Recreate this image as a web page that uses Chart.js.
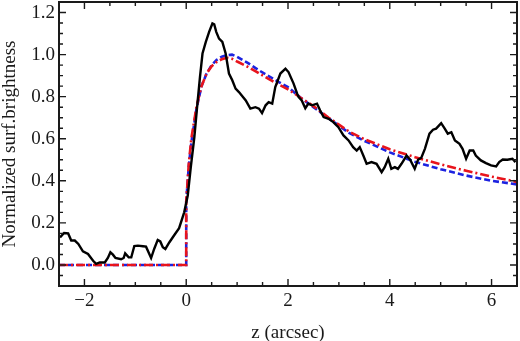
<!DOCTYPE html>
<html>
<head>
<meta charset="utf-8">
<script src="https://cdn.jsdelivr.net/npm/chart.js@4/dist/chart.umd.min.js"></script>
<style>
  html, body { margin: 0; padding: 0; background: #fff; }
  #chart { display: block; }
</style>
</head>
<body>
<canvas id="chart" width="520" height="341"></canvas>
<script>
// observed profile (black line)
const obsZ = [-2.48, -2.40, -2.32, -2.26, -2.19, -2.12, -2.03, -1.93, -1.83, -1.77, -1.70, -1.60, -1.54, -1.49, -1.44, -1.39,
  -1.28, -1.23, -1.20, -1.13, -1.08, -1.02, -0.95, -0.85, -0.79, -0.69, -0.63, -0.56, -0.51, -0.46, -0.41, -0.33,
  -0.24, -0.14, -0.04, 0.03, 0.09, 0.16, 0.22, 0.27, 0.32, 0.385, 0.45, 0.515, 0.55, 0.59, 0.645, 0.71,
  0.775, 0.84, 0.905, 0.97, 1.036, 1.17, 1.26, 1.36, 1.43, 1.49, 1.56, 1.62, 1.69, 1.75, 1.85, 1.95,
  2.01, 2.11, 2.18, 2.21, 2.27, 2.34, 2.40, 2.47, 2.57, 2.63, 2.70, 2.80, 2.89, 2.99, 3.09, 3.19,
  3.28, 3.35, 3.41, 3.48, 3.545, 3.64, 3.74, 3.84, 3.90, 3.97, 4.03, 4.10, 4.16, 4.23, 4.33, 4.40,
  4.49, 4.555, 4.62, 4.69, 4.78, 4.85, 4.91, 5.01, 5.08, 5.14, 5.21, 5.28, 5.37, 5.43, 5.50, 5.57,
  5.64, 5.69, 5.79, 5.89, 5.99, 6.09, 6.15, 6.22, 6.31, 6.41, 6.47];
const obsS = [0.131, 0.152, 0.150, 0.116, 0.116, 0.100, 0.065, 0.052, 0.020, 0.005, 0.012, 0.012, 0.033, 0.060, 0.049, 0.033,
  0.027, 0.033, 0.055, 0.036, 0.036, 0.090, 0.092, 0.089, 0.087, 0.033, 0.076, 0.119, 0.112, 0.084, 0.076, 0.108,
  0.140, 0.175, 0.250, 0.330, 0.465, 0.608, 0.767, 0.893, 1.005, 1.060, 1.108, 1.148, 1.144, 1.108, 1.076, 1.060,
  1.005, 0.910, 0.878, 0.838, 0.822, 0.782, 0.743, 0.750, 0.743, 0.722, 0.759, 0.774, 0.767, 0.846, 0.910, 0.933,
  0.917, 0.862, 0.814, 0.798, 0.782, 0.745, 0.767, 0.759, 0.767, 0.735, 0.703, 0.695, 0.679, 0.655, 0.616, 0.592,
  0.560, 0.544, 0.560, 0.520, 0.481, 0.489, 0.481, 0.441, 0.465, 0.505, 0.457, 0.465, 0.457, 0.481, 0.520, 0.500,
  0.457, 0.500, 0.510, 0.552, 0.624, 0.643, 0.648, 0.674, 0.648, 0.624, 0.631, 0.592, 0.576, 0.552, 0.505, 0.544,
  0.544, 0.520, 0.497, 0.484, 0.473, 0.468, 0.489, 0.501, 0.500, 0.505, 0.489];

// model profiles (blue dashed, red dash-dot)
const modelZ = [-2.5, 0, 0, 0.05, 0.1, 0.2, 0.3, 0.4, 0.5, 0.6, 0.7, 0.8, 0.9, 1.0, 1.2, 1.4, 1.6, 1.8, 2.0,
  2.25, 2.5, 2.8, 3.0, 3.2, 3.5, 4.0, 4.5, 5.0, 5.5, 6.0, 6.5];
const blueS = [0, 0, 0.30, 0.47, 0.58, 0.74, 0.85, 0.91, 0.95, 0.975, 0.99, 0.997, 1.0, 0.99, 0.962, 0.93, 0.9, 0.872, 0.845,
  0.795, 0.75, 0.697, 0.662, 0.628, 0.59, 0.535, 0.49, 0.455, 0.425, 0.40, 0.383];
const redS = [0, 0, 0.30, 0.48, 0.60, 0.75, 0.85, 0.91, 0.945, 0.965, 0.978, 0.985, 0.98, 0.967, 0.943, 0.915, 0.887, 0.86, 0.835,
  0.795, 0.755, 0.7, 0.667, 0.634, 0.598, 0.55, 0.512, 0.478, 0.448, 0.42, 0.395];

const xTicks = [-2, 0, 2, 4, 6];
const yTicks = [0, 0.2, 0.4, 0.6, 0.8, 1.0, 1.2];

const serif = '"Liberation Serif", "Times New Roman", serif';
const ink = '#1a1a1a';

function pairs(xs, ys) {
  return xs.map((x, i) => ({ x: x, y: ys[i] }));
}

// frame with inward ticks on all four sides
const frameTicks = {
  id: 'frameTicks',
  afterDraw(chart) {
    const { ctx, chartArea: a, scales } = chart;
    const xs = scales.x, ys = scales.y;
    ctx.save();
    ctx.strokeStyle = ink;
    ctx.lineWidth = 1.4;
    ctx.beginPath();
    const mark = (v, len, horiz) => {
      if (horiz) {
        const p = xs.getPixelForValue(v);
        ctx.moveTo(p, a.bottom); ctx.lineTo(p, a.bottom - len);
        ctx.moveTo(p, a.top); ctx.lineTo(p, a.top + len);
      } else {
        const p = ys.getPixelForValue(v);
        ctx.moveTo(a.left, p); ctx.lineTo(a.left + len, p);
        ctx.moveTo(a.right, p); ctx.lineTo(a.right - len, p);
      }
    };
    for (let i = -5; i <= 13; i++) mark(i / 2, xTicks.includes(i / 2) ? 7 : 4, true);
    for (let i = -2; i <= 25; i++) {
      const v = i / 20;
      mark(v, yTicks.some(t => Math.abs(t - v) < 1e-9) ? 7 : 4, false);
    }
    ctx.stroke();
    ctx.lineWidth = 2;
    ctx.strokeRect(a.left, a.top, a.right - a.left, a.bottom - a.top);
    ctx.restore();
  }
};

const ctx = document.getElementById('chart').getContext('2d');
const chart = new Chart(ctx, {
  type: 'line',
  data: {
    datasets: [{
      label: 'observed',
      data: pairs(obsZ, obsS),
      borderColor: '#000',
      borderWidth: 2.4,
      order: 0
    }, {
      label: 'model red',
      data: pairs(modelZ, redS),
      borderColor: '#e8141c',
      borderWidth: 2.6,
      borderDash: [9, 3, 2, 3],
      order: 1
    }, {
      label: 'model blue',
      data: pairs(modelZ, blueS),
      borderColor: '#1c22e0',
      borderWidth: 2.6,
      borderDash: [6, 3],
      order: 2
    }]
  },
  options: {
    responsive: false,
    animation: false,
    elements: { point: { radius: 0 }, line: { tension: 0, fill: false } },
    layout: { padding: { top: 2, right: 3, left: 0, bottom: 0 } },
    plugins: { legend: { display: false }, tooltip: { enabled: false } },
    scales: {
      x: {
        type: 'linear',
        min: -2.5,
        max: 6.5,
        afterBuildTicks: s => { s.ticks = xTicks.map(v => ({ value: v })); },
        afterFit: s => { s.height = 55; s.paddingLeft = 0; s.paddingRight = 0; },
        grid: { display: false, drawTicks: false },
        border: { display: false },
        ticks: {
          autoSkip: false,
          maxRotation: 0,
          padding: 4,
          color: ink,
          font: { family: serif, size: 19 },
          callback: v => (v < 0 ? '\u2212' + Math.abs(v) : String(v))
        },
        title: {
          display: true,
          text: 'z (arcsec)',
          color: ink,
          font: { family: serif, size: 19, lineHeight: 0.85 },
          padding: { top: 0, bottom: 0 }
        }
      },
      y: {
        type: 'linear',
        min: -0.1,
        max: 1.25,
        afterBuildTicks: s => { s.ticks = yTicks.map(v => ({ value: v })); },
        afterFit: s => { s.width = 59; s.paddingTop = 0; s.paddingBottom = 0; },
        grid: { display: false, drawTicks: false },
        border: { display: false },
        ticks: {
          autoSkip: false,
          padding: 4,
          color: ink,
          font: { family: serif, size: 19 },
          callback: v => v.toFixed(1)
        },
        title: {
          display: true,
          text: 'Normalized surf.brightness',
          color: ink,
          font: { family: serif, size: 19, lineHeight: 1.1 },
          padding: { top: 0, bottom: 0 }
        }
      }
    }
  },
  plugins: [frameTicks]
});
</script>
</body>
</html>
